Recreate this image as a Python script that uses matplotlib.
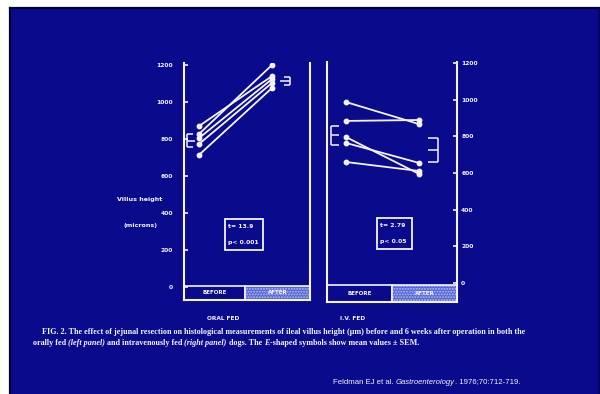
import matplotlib
matplotlib.use("Agg")
import matplotlib.pyplot as plt
from matplotlib.patches import Rectangle

# ---------------- data ----------------
conditions = ["BEFORE", "AFTER"]
panels = ["ORAL FED", "I.V. FED"]
yticks = [0, 200, 400, 600, 800, 1000, 1200]
ytick_labels = ["0", "200", "400", "600", "800", "1000", "1200"]

oral_before = [870, 827, 805, 773, 714]
oral_after = [1140, 1200, 1124, 1103, 1076]
oral_mean = [790, 1113]
oral_sem = [35, 20]
oral_stats = ["t= 13.9", "p< 0.001"]

iv_before = [987, 884, 796, 764, 660]
iv_after = [867, 889, 595, 655, 611]
iv_mean = [807, 725]
iv_sem = [52, 65]
iv_stats = ["t= 2.79", "p< 0.05"]

ylabel_lines = ["Villus height", "(microns)"]
caption_line1 = [("FIG. 2. The effect of jejunal resection on histological measurements of ileal villus height (\u03bcm) before and 6 weeks after operation in both the", "normal")]
caption_line2 = [("orally fed ", "normal"), ("(left panel)", "italic"), (" and intravenously fed ", "normal"),
                 ("(right panel)", "italic"), (" dogs. The ", "normal"), ("E", "italic"),
                 ("-shaped symbols show mean values \u00b1 SEM.", "normal")]
citation = [("Feldman EJ et al. ", "normal"), ("Gastroenterology", "italic"), (". 1976;70:712-719.", "normal")]

# ---------------- style ----------------
W, H = 600, 394
NAVY = "#0a0a8c"
WHITE = "#f6f2fa"
LW = 1.5

fig = plt.figure(figsize=(W / 100, H / 100), dpi=100, facecolor="white")


def px(x0, y0, x1, y1):
    return [x0 / W, 1 - y1 / H, (x1 - x0) / W, (y1 - y0) / H]


bg = fig.add_axes([0, 0, 1, 1])
bg.set_xlim(0, W)
bg.set_ylim(H, 0)
bg.axis("off")
bg.add_patch(Rectangle((9, 7), W - 9, H - 7, facecolor=NAVY, edgecolor="none"))
bg.plot([10, W], [8, 8], color="#02022e", lw=1.6)
bg.plot([10, 10], [8, H], color="#02022e", lw=1.6)
bg.plot([W - 1.5, W - 1.5], [8, H], color="#04045a", lw=1.2)


def draw_E(ax, x, mean, sem, width, mid_width):
    ax.plot([x, x], [mean - sem, mean + sem], color=WHITE, lw=1.1, solid_capstyle="butt")
    for v, w in ((mean - sem, width), (mean, mid_width), (mean + sem, width)):
        ax.plot([x, x + w], [v, v], color=WHITE, lw=1.1, solid_capstyle="butt")


def stat_box(x0, y0, x1, y1, lines):
    bg.add_patch(Rectangle((x0, y0), x1 - x0, y1 - y0, facecolor="none", edgecolor=WHITE, lw=1.3))
    h = y1 - y0
    bg.text(x0 + 3.5, y0 + h * 0.24, lines[0], ha="left", va="center", fontsize=4.4,
            fontweight="bold", color=WHITE)
    bg.text(x0 + 3.5, y0 + h * 0.76, lines[1], ha="left", va="center", fontsize=4.4,
            fontweight="bold", color=WHITE)


def make_panel(rect, y0px, y1200px, xl, xr, before, after, mean, sem,
               side, e_left, e_right, box_frac, boxh):
    x0p, ytop, x1p, ybot = rect
    ax = fig.add_axes(px(*rect))
    ax.patch.set_alpha(0)
    scale = (y0px - y1200px) / 1200.0
    ax.set_ylim((y0px - ybot) / scale, (y0px - ytop) / scale)
    ax.set_xlim(xl, xr)
    for s in ("left", "right", "bottom"):
        ax.spines[s].set_color(WHITE)
        ax.spines[s].set_linewidth(LW)
    ax.spines["top"].set_visible(False)
    ax.set_xticks([])
    ax.set_yticks(yticks)
    ax.set_yticklabels(ytick_labels, fontsize=4.3, fontweight="bold", color=WHITE)
    if side == "left":
        ax.yaxis.tick_left()
        ax.tick_params(axis="y", direction="in", length=3, width=1.2, color=WHITE, pad=8)
    else:
        ax.yaxis.tick_right()
        ax.tick_params(axis="y", direction="in", length=3, width=1.2, color=WHITE, pad=3)
    xs = [0, 1]
    for b, a in zip(before, after):
        ax.plot(xs, [b, a], color=WHITE, lw=1.3, marker="o", ms=3.2, mfc=WHITE, mec=WHITE)
    draw_E(ax, e_left[0], mean[0], sem[0], e_left[1], e_left[2])
    draw_E(ax, e_right[0], mean[1], sem[1], e_right[1], e_right[2])
    # bottom condition boxes
    ax.add_patch(Rectangle((0, 0), box_frac, boxh, transform=ax.transAxes, facecolor=NAVY,
                           edgecolor=WHITE, lw=1.2, clip_on=False))
    ax.add_patch(Rectangle((box_frac, 0), 1 - box_frac, boxh, transform=ax.transAxes,
                           facecolor="#5064d2", edgecolor="#b4bef4", hatch="......", lw=0,
                           clip_on=False))
    ax.add_patch(Rectangle((box_frac, 0), 1 - box_frac, boxh, transform=ax.transAxes,
                           facecolor="none", edgecolor=WHITE, lw=1.2, clip_on=False))
    ax.text(box_frac / 2, boxh / 2, conditions[0], transform=ax.transAxes, ha="center",
            va="center", fontsize=4.0, fontweight="bold", color=WHITE)
    ax.text((1 + box_frac) / 2, boxh / 2, conditions[1], transform=ax.transAxes, ha="center",
            va="center", fontsize=4.0, fontweight="bold", color=WHITE)
    return ax


# left panel: x=0 at px199, x=1 at px272
axL = make_panel((184, 63, 310, 300), 287, 65, -15 / 73, 1 + 38 / 73,
                 oral_before, oral_after, oral_mean, oral_sem, "left",
                 (-12 / 73, 6 / 73, 8 / 73), (91 / 73, -6 / 73, -10 / 73), 0.484, 0.06)
# right panel: x=0 at px346, x=1 at px419
axR = make_panel((327, 62, 457, 302), 283, 63, -19 / 73, 1 + 38 / 73,
                 iv_before, iv_after, iv_mean, iv_sem, "right",
                 (-15 / 73, 8 / 73, 8 / 73), (92 / 73, -10 / 73, -10 / 73), 0.5, 0.07)

stat_box(225, 219, 263, 250, oral_stats)
stat_box(377, 218, 412, 249, iv_stats)

# labels
fig.text(140 / W, 1 - 200 / H, ylabel_lines[0], ha="center", va="center", fontsize=4.6,
         fontweight="bold", color=WHITE)
fig.text(140 / W, 1 - 225 / H, ylabel_lines[1], ha="center", va="center", fontsize=4.6,
         fontweight="bold", color=WHITE)
fig.text(223 / W, 1 - 318 / H, panels[0], ha="center", va="center", fontsize=4.2,
         fontweight="bold", color=WHITE)
fig.text(353 / W, 1 - 318 / H, panels[1], ha="center", va="center", fontsize=4.2,
         fontweight="bold", color=WHITE)

fig.canvas.draw()
renderer = fig.canvas.get_renderer()


def draw_runs(x, y, runs, **kw):
    cur = x
    for txt, style in runs:
        t = fig.text(cur / W, 1 - y / H, txt, ha="left", va="center", style=style, **kw)
        bb = t.get_window_extent(renderer=renderer)
        cur += bb.width


cap_kw = dict(fontsize=5.9, fontweight="bold", color=WHITE, family="Liberation Serif")
draw_runs(42, 332, caption_line1, **cap_kw)
draw_runs(33, 343, caption_line2, **cap_kw)
draw_runs(333, 382, citation, fontsize=5.6, color=WHITE, family="Liberation Sans")

fig.savefig("out.png", dpi=100, facecolor="white")
